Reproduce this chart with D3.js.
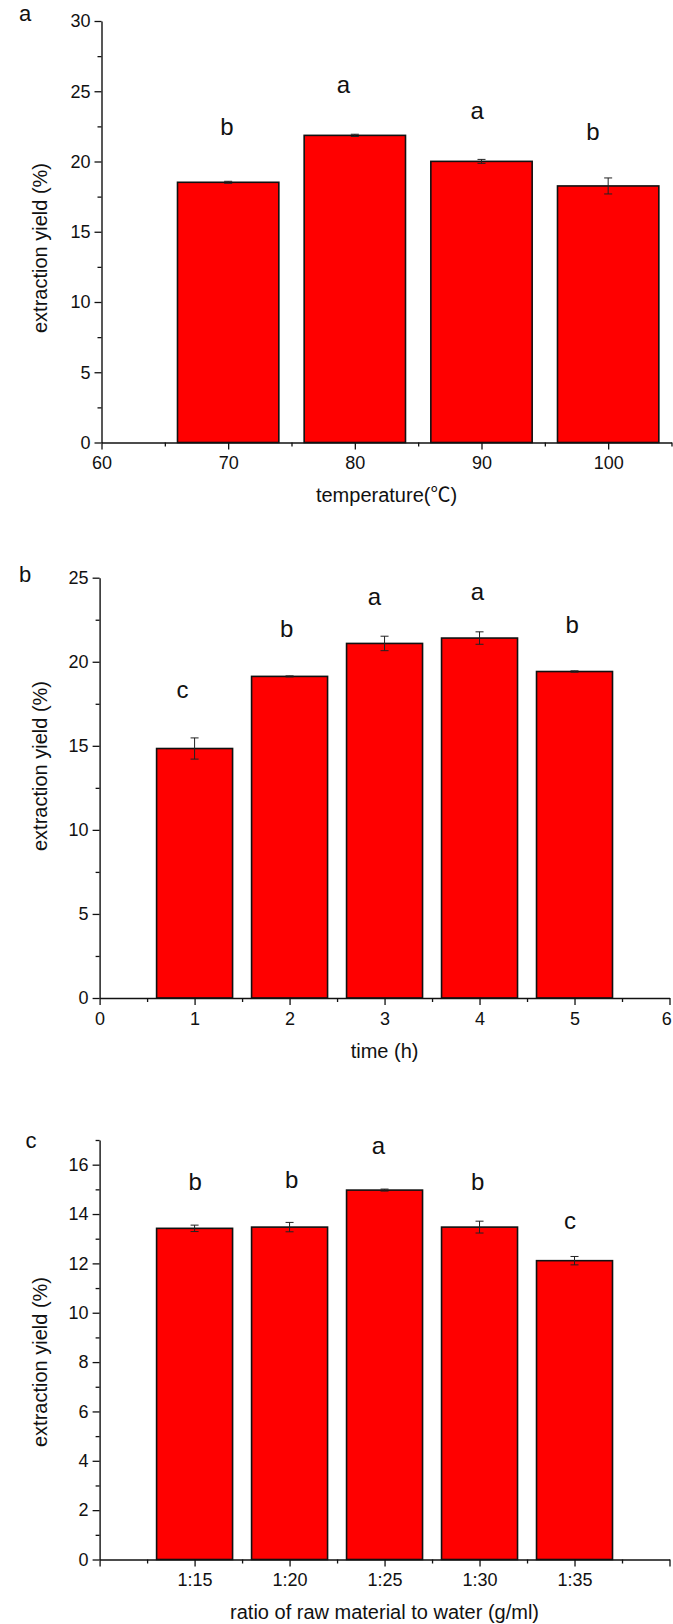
<!DOCTYPE html>
<html>
<head>
<meta charset="utf-8">
<script src="https://cdn.jsdelivr.net/npm/d3@7"></script>
<style>
  html, body { margin: 0; padding: 0; background: #fff; }
  svg { display: block; }
  text { font-family: "Liberation Sans", Arial, "Noto Sans CJK SC", sans-serif; fill: #111; }
</style>
</head>
<body>
<svg id="fig" width="673" height="1624"></svg>
<script>
// (a) extraction temperature
const tempCategories = [70, 80, 90, 100];
const tempYield = [18.52, 21.86, 20.01, 18.26];
const tempSD = [0.07, 0.08, 0.14, 0.57];
const tempLetters = ["b", "a", "a", "b"];
const tempXTicks = [60, 70, 80, 90, 100];
const tempYTicks = [0, 5, 10, 15, 20, 25, 30];

// (b) extraction time
const timeCategories = [1, 2, 3, 4, 5];
const timeYield = [14.84, 19.13, 21.09, 21.41, 19.42];
const timeSD = [0.63, 0.03, 0.43, 0.37, 0.04];
const timeLetters = ["c", "b", "a", "a", "b"];
const timeXTicks = [0, 1, 2, 3, 4, 5, 6];
const timeYTicks = [0, 5, 10, 15, 20, 25];

// (c) raw material to water ratio
const ratioCategories = [1, 2, 3, 4, 5];
const ratioLabels = ["1:15", "1:20", "1:25", "1:30", "1:35"];
const ratioYield = [13.42, 13.47, 14.97, 13.47, 12.11];
const ratioSD = [0.13, 0.19, 0.04, 0.24, 0.17];
const ratioLetters = ["b", "b", "a", "b", "c"];
const ratioXTicks = [0, 1, 2, 3, 4, 5, 6];
const ratioYTicks = [0, 2, 4, 6, 8, 10, 12, 14, 16];

const svg = d3.select("#fig");

const panels = [
  {
    tag: "a", tagPos: [25, 20.5],
    cats: tempCategories, vals: tempYield, sd: tempSD, letters: tempLetters,
    xDomain: [60, 105], xRange: [101.5, 671.5], barW: 8,
    yDomain: [0, 30], yRange: [442.5, 21],
    xTicks: tempXTicks, xMinor: d3.range(65, 106, 10), xFormat: d => d,
    yTicks: tempYTicks, yMinor: d3.range(2.5, 30, 5),
    xTitle: "temperature(\u2103)", yTitleCenter: 248,
    letterGap: 41.5, letterDx: [-1.3, -11.5, -4.3, -15.3], letterDy: [-4.8, 0, 1.4, 3.6]
  },
  {
    tag: "b", tagPos: [25, 582],
    cats: timeCategories, vals: timeYield, sd: timeSD, letters: timeLetters,
    xDomain: [0, 6], xRange: [99.6, 669.5], barW: 0.8,
    yDomain: [0, 25], yRange: [998, 577.7],
    xTicks: timeXTicks, xMinor: d3.range(0.5, 6, 1), xFormat: d => d,
    yTicks: timeYTicks, yMinor: d3.range(2.5, 25, 5),
    xTitle: "time (h)", yTitleCenter: 766,
    letterGap: 36, letterDx: [-12, -3, -10, -2, -2.4], letterDy: [-4.1, -2.4, 5.2, 3.9, -1.8]
  },
  {
    tag: "c", tagPos: [31, 1148],
    cats: ratioCategories, vals: ratioYield, sd: ratioSD, letters: ratioLetters,
    xDomain: [0, 6], xRange: [99.6, 669.5], barW: 0.8,
    yDomain: [0, 17], yRange: [1559.5, 1140],
    xTicks: ratioXTicks, xMinor: d3.range(0.5, 6, 1), xFormat: d => ratioLabels[d - 1] || "",
    yTicks: ratioYTicks, yMinor: d3.range(1, 18, 2),
    xTitle: "ratio of raw material to water (g/ml)", yTitleCenter: 1362,
    letterGap: 32, letterDx: [0.7, 2.2, -6, -1.8, -4.5], letterDy: [-3.2, -2.2, -3.2, 0.7, 4.7]
  }
];

panels.forEach(p => {
  const x = d3.scaleLinear().domain(p.xDomain).range(p.xRange);
  const y = d3.scaleLinear().domain(p.yDomain).range(p.yRange);
  const g = svg.append("g");
  const rows = p.cats.map((c, i) => ({ c, v: p.vals[i], e: p.sd[i], l: p.letters[i], i }));

  // bars
  g.selectAll("rect.bar").data(rows).join("rect")
    .attr("class", "bar")
    .attr("x", d => x(d.c - p.barW / 2))
    .attr("width", d => x(d.c + p.barW / 2) - x(d.c - p.barW / 2))
    .attr("y", d => y(d.v))
    .attr("height", d => y(0) - y(d.v))
    .attr("fill", "#ff0000")
    .attr("stroke", "#111")
    .attr("stroke-width", 1.6);

  // error bars
  const eb = g.selectAll("g.err").data(rows).join("g").attr("class", "err")
    .attr("stroke", "#222").attr("stroke-width", 1);
  eb.append("line")
    .attr("x1", d => x(d.c)).attr("x2", d => x(d.c))
    .attr("y1", d => y(d.v - d.e)).attr("y2", d => y(d.v + d.e));
  [-1, 1].forEach(s => {
    eb.append("line")
      .attr("x1", d => x(d.c) - 4).attr("x2", d => x(d.c) + 4)
      .attr("y1", d => y(d.v + s * d.e)).attr("y2", d => y(d.v + s * d.e));
  });

  // significance letters
  g.selectAll("text.sig").data(rows).join("text")
    .attr("class", "sig")
    .attr("x", d => x(d.c) + p.letterDx[d.i])
    .attr("y", d => y(d.v + d.e) - p.letterGap + p.letterDy[d.i])
    .attr("text-anchor", "middle")
    .attr("font-size", 24)
    .text(d => d.l);

  // x axis: major + minor ticks (last label kept inside the page edge)
  g.append("g").attr("transform", `translate(0,${y(0)})`)
    .call(d3.axisBottom(x).tickValues(p.xTicks).tickFormat(p.xFormat)
      .tickSize(7).tickSizeOuter(0).tickPadding(7))
    .selectAll(".tick text")
    .attr("text-anchor", d => (d === p.xDomain[1] ? "end" : "middle"))
    .attr("dx", d => (d === p.xDomain[1] ? "0.1em" : 0));
  g.append("g").attr("transform", `translate(0,${y(0)})`)
    .call(d3.axisBottom(x).tickValues(p.xMinor).tickFormat("").tickSize(4).tickSizeOuter(0))
    .select(".domain").remove();

  // y axis: major + minor ticks
  g.append("g").attr("transform", `translate(${x(p.xDomain[0])},0)`)
    .call(d3.axisLeft(y).tickValues(p.yTicks).tickSize(7).tickSizeOuter(0).tickPadding(4));
  g.append("g").attr("transform", `translate(${x(p.xDomain[0])},0)`)
    .call(d3.axisLeft(y).tickValues(p.yMinor).tickFormat("").tickSize(4).tickSizeOuter(0))
    .select(".domain").remove();

  g.selectAll(".domain").attr("stroke", "#111").attr("stroke-width", 1.4);
  g.selectAll(".tick line").attr("stroke", "#111").attr("stroke-width", 1.3);
  g.selectAll(".tick text")
    .attr("font-family", "'Liberation Sans', Arial, sans-serif")
    .attr("font-size", 18).attr("fill", "#1a1a1a");

  // axis titles
  g.append("text")
    .attr("x", (p.xRange[0] + p.xRange[1]) / 2)
    .attr("y", y(0) + 59.5)
    .attr("text-anchor", "middle")
    .attr("font-size", 20)
    .text(p.xTitle);
  g.append("text")
    .attr("transform", `translate(47,${p.yTitleCenter}) rotate(-90)`)
    .attr("text-anchor", "middle")
    .attr("font-size", 20)
    .text("extraction yield (%)");

  // panel tag
  g.append("text")
    .attr("x", p.tagPos[0]).attr("y", p.tagPos[1])
    .attr("text-anchor", "middle")
    .attr("font-size", 22)
    .text(p.tag);
});
</script>
</body>
</html>
